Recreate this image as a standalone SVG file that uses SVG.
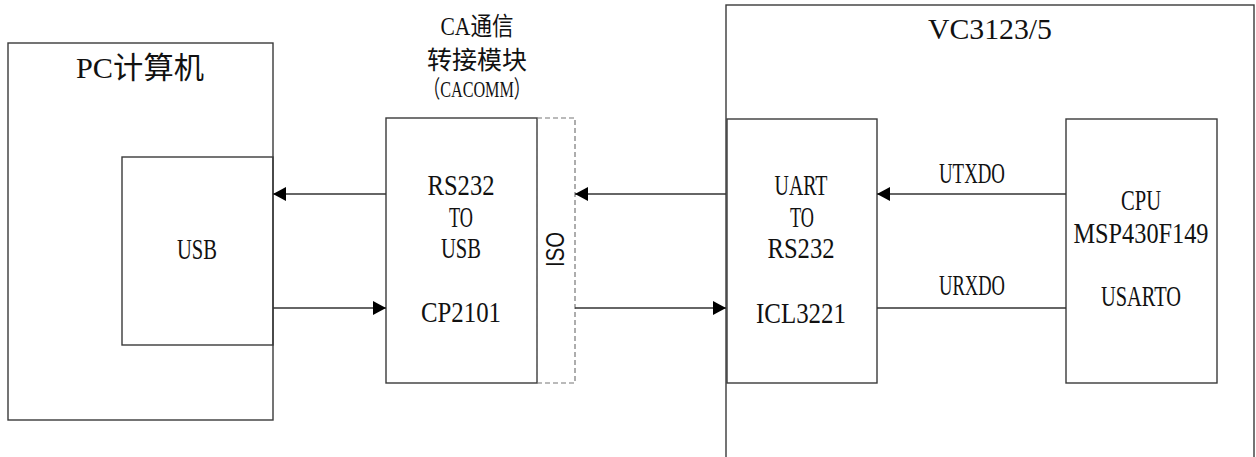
<svg xmlns="http://www.w3.org/2000/svg" width="1256" height="457" viewBox="0 0 1256 457">
<style>
.box{fill:none;stroke:#3a3a3a;stroke-width:1.4}
.iso{fill:none;stroke:#777;stroke-width:1.2;stroke-dasharray:5,3}
.ln{fill:none;stroke:#333;stroke-width:1.3}
.t{font-family:"Liberation Serif","Noto Sans CJK SC",serif;fill:#111;text-anchor:middle}
.s{font-size:29px}
.h{font-size:30px}
.c{font-size:25px}
.iso-t{font-family:"Liberation Sans",Arial,sans-serif;font-size:26px;fill:#111;text-anchor:middle}
</style>
<defs>
<marker id="arr" markerUnits="userSpaceOnUse" markerWidth="14" markerHeight="14" refX="13" refY="7" orient="auto">
<path d="M0,0 L13,7 L0,14 z" fill="#000"/>
</marker>
</defs>
<rect width="1256" height="457" fill="#fff"/>
<g id="pc">
<rect class="box" x="8" y="43" width="265" height="377"/>
<text class="t h" x="140" y="78" textLength="128" lengthAdjust="spacingAndGlyphs">PC计算机</text>
</g>
<g id="usb">
<rect class="box" x="122" y="157" width="151" height="188"/>
<text class="t s" x="197" y="259" textLength="40" lengthAdjust="spacingAndGlyphs">USB</text>
</g>
<g id="cacomm-title">
<text class="t c" x="477" y="35" textLength="73" lengthAdjust="spacingAndGlyphs">CA通信</text>
<text class="t c" x="477" y="69" textLength="100" lengthAdjust="spacingAndGlyphs">转接模块</text>
<text class="t" x="477" y="97" font-size="24" textLength="106" lengthAdjust="spacingAndGlyphs">（CACOMM）</text>
</g>
<g id="cp2101">
<rect class="box" x="386" y="118" width="151" height="265"/>
<text class="t s" x="461" y="195" textLength="67" lengthAdjust="spacingAndGlyphs">RS232</text>
<text class="t s" x="461" y="227" textLength="24" lengthAdjust="spacingAndGlyphs">TO</text>
<text class="t s" x="461" y="258" textLength="40" lengthAdjust="spacingAndGlyphs">USB</text>
<text class="t s" x="461" y="322" textLength="80" lengthAdjust="spacingAndGlyphs">CP2101</text>
</g>
<g id="iso">
<rect class="iso" x="537" y="118" width="38" height="265"/>
<text class="iso-t" transform="translate(564,249.5) rotate(-90)" textLength="35" lengthAdjust="spacingAndGlyphs">ISO</text>
</g>
<g id="vc3123">
<rect class="box" x="726" y="5" width="528" height="470"/>
<text class="t h" x="990" y="39" textLength="124" lengthAdjust="spacingAndGlyphs">VC3123/5</text>
</g>
<g id="uart">
<rect class="box" x="727" y="119" width="150" height="264"/>
<text class="t s" x="801" y="195" textLength="53" lengthAdjust="spacingAndGlyphs">UART</text>
<text class="t s" x="802" y="227" textLength="24" lengthAdjust="spacingAndGlyphs">TO</text>
<text class="t s" x="801" y="258" textLength="67" lengthAdjust="spacingAndGlyphs">RS232</text>
<text class="t s" x="801" y="323" textLength="90" lengthAdjust="spacingAndGlyphs">ICL3221</text>
</g>
<g id="cpu">
<rect class="box" x="1066" y="119" width="151" height="264"/>
<text class="t s" x="1141" y="210" textLength="40" lengthAdjust="spacingAndGlyphs">CPU</text>
<text class="t s" x="1141" y="243" textLength="135" lengthAdjust="spacingAndGlyphs">MSP430F149</text>
<text class="t s" x="1141" y="306" textLength="80" lengthAdjust="spacingAndGlyphs">USARTO</text>
</g>
<g id="connectors">
<line class="ln" x1="386" y1="194" x2="273" y2="194" marker-end="url(#arr)"/>
<line class="ln" x1="726" y1="194" x2="575" y2="194" marker-end="url(#arr)"/>
<line class="ln" x1="1066" y1="194" x2="877" y2="194" marker-end="url(#arr)"/>
<line class="ln" x1="273" y1="308" x2="386" y2="308" marker-end="url(#arr)"/>
<line class="ln" x1="575" y1="308" x2="726" y2="308" marker-end="url(#arr)"/>
<line class="ln" x1="877" y1="308" x2="1066" y2="308"/>
<text class="t s" x="972" y="183" textLength="66" lengthAdjust="spacingAndGlyphs">UTXDO</text>
<text class="t s" x="972" y="295" textLength="66" lengthAdjust="spacingAndGlyphs">URXDO</text>
</g>
</svg>
